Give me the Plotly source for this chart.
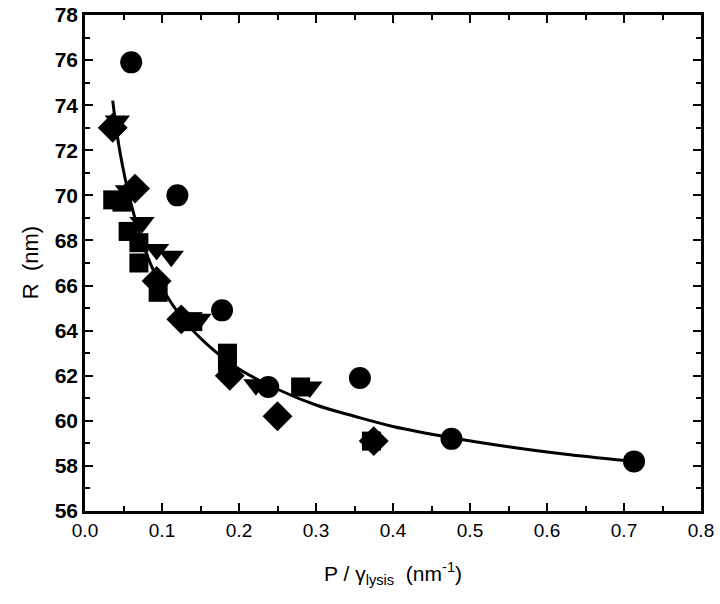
import plotly.graph_objects as go

# Circles
circ_x = [0.060, 0.120, 0.178, 0.238, 0.357, 0.476, 0.713]
circ_y = [75.9, 70.0, 64.9, 61.5, 61.9, 59.2, 58.2]
# Squares
sq_x = [0.036, 0.048, 0.056, 0.070, 0.070, 0.095, 0.140, 0.185, 0.185, 0.280, 0.372]
sq_y = [69.8, 69.7, 68.4, 67.9, 67.0, 65.7, 64.4, 63.0, 62.6, 61.5, 59.1]
# Diamonds
dia_x = [0.036, 0.065, 0.093, 0.125, 0.188, 0.250, 0.375]
dia_y = [73.0, 70.3, 66.2, 64.5, 62.0, 60.2, 59.1]
# Down triangles
tri_x = [0.042, 0.055, 0.074, 0.093, 0.112, 0.148, 0.222, 0.292]
tri_y = [73.3, 70.2, 68.8, 67.6, 67.3, 64.5, 61.6, 61.5]
# Fitted curve
fit_x = [0.036, 0.045, 0.060, 0.080, 0.100, 0.130, 0.160, 0.200, 0.250, 0.300,
         0.350, 0.400, 0.476, 0.550, 0.630, 0.714]
fit_y = [74.2, 72.0, 69.6, 67.4, 65.9, 64.4, 63.35, 62.3, 61.4, 60.7,
         60.2, 59.75, 59.25, 58.85, 58.5, 58.2]

x_ticks = [0.0, 0.1, 0.2, 0.3, 0.4, 0.5, 0.6, 0.7, 0.8]
y_ticks = [56, 58, 60, 62, 64, 66, 68, 70, 72, 74, 76, 78]

FONT = "Liberation Sans, Arial, sans-serif"

fig = go.Figure()
fig.add_trace(go.Scatter(x=fit_x, y=fit_y, mode="lines", line=dict(color="black", width=3, shape="spline"),
                         hoverinfo="skip"))
mk = dict(color="black", line=dict(width=0))
fig.add_trace(go.Scatter(x=sq_x, y=sq_y, mode="markers", marker=dict(symbol="square", size=19, **mk)))
fig.add_trace(go.Scatter(x=dia_x, y=dia_y, mode="markers", marker=dict(symbol="diamond", size=23, **mk)))
fig.add_trace(go.Scatter(x=tri_x, y=tri_y, mode="markers", marker=dict(symbol="triangle-down", size=22, **mk)))
fig.add_trace(go.Scatter(x=circ_x, y=circ_y, mode="markers", marker=dict(symbol="circle", size=22, **mk)))

axis_common = dict(showline=True, linecolor="black", linewidth=2.5, mirror="ticks",
                   ticks="inside", ticklen=8, tickwidth=2, tickcolor="black",
                   showgrid=False, zeroline=False, automargin=False)
fig.update_xaxes(range=[0, 0.8], tickvals=x_ticks, ticktext=[f"{v:.1f}" for v in x_ticks],
                 minor=dict(dtick=0.05, ticks="inside", ticklen=5, tickwidth=2, tickcolor="black"),
                 tickfont=dict(family=FONT, size=19, color="black"),
                 **axis_common)
fig.update_yaxes(range=[56, 78], tickvals=y_ticks, ticktext=[str(v) for v in y_ticks],
                 minor=dict(dtick=1, ticks="inside", ticklen=5, tickwidth=2, tickcolor="black"),
                 tickfont=dict(family=FONT, size=21, color="black", weight="bold"),
                 **axis_common)
fig.add_annotation(text="P / γ<sub>lysis</sub>  (nm<sup>-1</sup>)", xref="paper", yref="paper",
                   x=0.5, y=-0.125, xanchor="center", yanchor="middle", showarrow=False,
                   font=dict(family=FONT, size=21, color="black"))
fig.add_annotation(text="R  (nm)", xref="paper", yref="paper", textangle=-90,
                   x=-0.089, y=0.5, xanchor="center", yanchor="middle", showarrow=False,
                   font=dict(family=FONT, size=22, color="black"))
fig.update_layout(width=720, height=604, showlegend=False, plot_bgcolor="white", paper_bgcolor="white",
                  margin=dict(l=85, r=19, t=15, b=93))
fig.write_html("out.html", config={"displayModeBar": False},
               post_script="document.body.style.margin='0';")
